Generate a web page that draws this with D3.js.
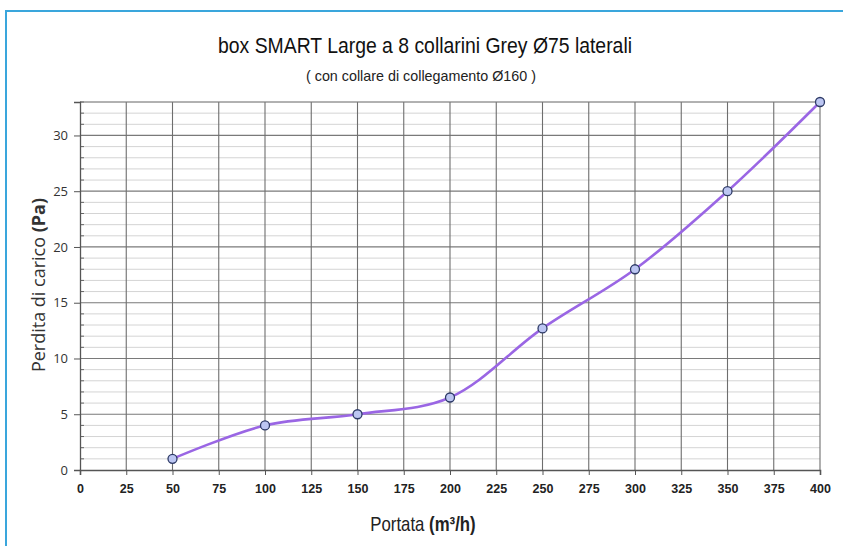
<!DOCTYPE html>
<html>
<head>
<meta charset="utf-8">
<script src="https://cdn.jsdelivr.net/npm/d3@7"></script>
<style>
  body { margin: 0; background: #fff; }
  svg { display: block; }
</style>
</head>
<body>
<div id="chart"></div>
<script>
// data
portata = [50, 100, 150, 200, 250, 300, 350, 400]
perdita = [1, 4, 5, 6.5, 12.7, 18, 25, 33]
xTicks = [0, 25, 50, 75, 100, 125, 150, 175, 200, 225, 250, 275, 300, 325, 350, 375, 400]
yTicks = [0, 5, 10, 15, 20, 25, 30]

const W = 843, H = 546
const margin = { top: 102, right: 23, bottom: 76, left: 80 }
const width = W - margin.left - margin.right
const height = H - margin.top - margin.bottom

const svg = d3.select("#chart").append("svg")
  .attr("width", W)
  .attr("height", H)

// outer frame (top + left only)
svg.append("path")
  .attr("d", "M6,546 L6,11 L843,11")
  .attr("fill", "none")
  .attr("stroke", "#3aa6dc")
  .attr("stroke-width", 2)

// titles - condensed look via textLength
svg.append("text")
  .attr("x", 425).attr("y", 53)
  .attr("text-anchor", "middle")
  .attr("textLength", 414)
  .attr("lengthAdjust", "spacingAndGlyphs")
  .style("font-family", "'Liberation Sans', Arial, sans-serif")
  .style("font-size", "22px")
  .attr("fill", "#111")
  .text("box SMART Large a 8 collarini Grey Ø75 laterali")

svg.append("text")
  .attr("x", 421).attr("y", 81)
  .attr("text-anchor", "middle")
  .attr("textLength", 230)
  .attr("lengthAdjust", "spacingAndGlyphs")
  .style("font-family", "'Liberation Sans', Arial, sans-serif")
  .style("font-size", "15px")
  .attr("fill", "#222")
  .text("( con collare di collegamento Ø160 )")

const g = svg.append("g")
  .attr("transform", `translate(${margin.left},${margin.top})`)

const x = d3.scaleLinear().domain([0, 400]).range([0, width])
const y = d3.scaleLinear().domain([0, 33]).range([height, 0])

// minor horizontal grid, every 1 Pa
g.append("g")
  .selectAll("line")
  .data(d3.range(1, 34).filter(d => d % 5 != 0))
  .join("line")
  .attr("x1", 0).attr("x2", width)
  .attr("y1", d => y(d)).attr("y2", d => y(d))
  .attr("stroke", "#d4d4d4")
  .attr("stroke-width", 1)

// minor ticks on y axis
g.append("g")
  .selectAll("line")
  .data(d3.range(1, 34).filter(d => d % 5 != 0))
  .join("line")
  .attr("x1", 0).attr("x2", 4)
  .attr("y1", d => y(d)).attr("y2", d => y(d))
  .attr("stroke", "#666")

// major horizontal grid
g.append("g")
  .selectAll("line")
  .data(yTicks.filter(d => d > 0))
  .join("line")
  .attr("x1", 0).attr("x2", width)
  .attr("y1", d => y(d)).attr("y2", d => y(d))
  .attr("stroke", "#7a7a7a")
  .attr("stroke-width", 1.2)

// vertical grid
g.append("g")
  .selectAll("line")
  .data(xTicks.filter(d => d > 0))
  .join("line")
  .attr("x1", d => x(d)).attr("x2", d => x(d))
  .attr("y1", y(33)).attr("y2", height)
  .attr("stroke", "#6e6e6e")
  .attr("stroke-width", 1.1)

// top border of plot
g.append("line")
  .attr("x1", 0).attr("x2", width)
  .attr("y1", 0).attr("y2", 0)
  .attr("stroke", "#7a7a7a")

// y axis
const yAxis = g.append("g")
  .call(d3.axisLeft(y).tickValues(yTicks).tickSize(6).tickPadding(6))
yAxis.select(".domain").attr("stroke", "#555").attr("stroke-width", 1.3)
yAxis.selectAll(".tick line").attr("stroke", "#555")
yAxis.selectAll("text")
  .style("font-family", "'Open Sans', sans-serif")
  .style("font-size", "13px")
  .attr("fill", "#333")

// x axis
const xAxis = g.append("g")
  .attr("transform", `translate(0,${height})`)
  .call(d3.axisBottom(x).tickValues(xTicks).tickSize(5).tickPadding(9))
xAxis.select(".domain").attr("stroke", "#555").attr("stroke-width", 1.6)
xAxis.selectAll(".tick line").attr("stroke", "#555")
xAxis.selectAll("text")
  .style("font-family", "'Liberation Sans', Arial, sans-serif")
  .style("font-size", "12.5px")
  .style("font-weight", "bold")
  .attr("fill", "#222")

// axis titles
const yTitle = svg.append("text")
  .attr("transform", "translate(45,285) rotate(-90)")
  .attr("text-anchor", "middle")
  .style("font-family", "'Open Sans', sans-serif")
  .style("font-size", "18px")
  .attr("fill", "#333")
yTitle.append("tspan").text("Perdita di carico ")
yTitle.append("tspan").style("font-weight", "bold").text("(Pa)")

const xTitle = svg.append("text")
  .attr("transform", "translate(423,531) scale(0.84,1)")
  .attr("text-anchor", "middle")
  .style("font-family", "'Liberation Sans', Arial, sans-serif")
  .style("font-size", "20px")
  .attr("fill", "#222")
xTitle.append("tspan").text("Portata ")
xTitle.append("tspan").style("font-weight", "bold").text("(m³/h)")

// smoothed line
const data = portata.map((p, i) => ({ p: p, v: perdita[i] }))

g.append("path")
  .datum(data)
  .attr("fill", "none")
  .attr("stroke", "#9a66e4")
  .attr("stroke-width", 2.6)
  .attr("d", d3.line()
    .x(d => x(d.p))
    .y(d => y(d.v))
    .curve(d3.curveCatmullRom.alpha(0.5)))

// markers
g.append("g")
  .selectAll("circle")
  .data(data)
  .join("circle")
  .attr("cx", d => x(d.p))
  .attr("cy", d => y(d.v))
  .attr("r", 4.5)
  .attr("fill", "#bcc6f2")
  .attr("stroke", "#2d3a66")
  .attr("stroke-width", 1.3)
</script>
</body>
</html>
